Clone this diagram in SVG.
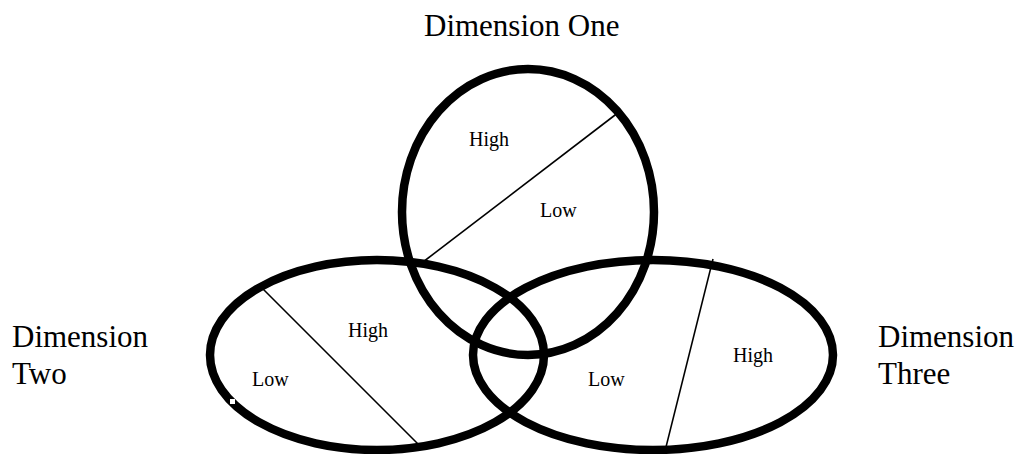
<svg xmlns="http://www.w3.org/2000/svg" width="1023" height="454" viewBox="0 0 1023 454">
<style>
.ring{fill:none;stroke:#000;stroke-width:8.5}
.div{stroke:#000;stroke-width:1.6;fill:none}
.big{font-family:"Liberation Serif","Times New Roman",serif;font-size:31px;fill:#000}
.sm{font-family:"Liberation Serif","Times New Roman",serif;font-size:20px;fill:#000}
</style>
<rect width="1023" height="454" fill="#fff"/>
<g id="dimension-one">
<ellipse class="ring" cx="528" cy="212" rx="126" ry="143"/>
<text class="big" x="424" y="36">Dimension One</text>
<text class="sm" x="469" y="146">High</text>
<text class="sm" x="540" y="217">Low</text>
</g>
<g id="dimension-two">
<ellipse class="ring" cx="377" cy="355" rx="167" ry="95"/>
<rect x="230" y="399" width="5" height="5" fill="#fff"/>
<text class="big" x="12" y="347">Dimension</text>
<text class="big" x="12" y="384">Two</text>
<text class="sm" x="348" y="337">High</text>
<text class="sm" x="252" y="386">Low</text>
</g>
<g id="dimension-three">
<ellipse class="ring" cx="653" cy="355" rx="180" ry="95"/>
<text class="big" x="878" y="347">Dimension</text>
<text class="big" x="878" y="384">Three</text>
<text class="sm" x="733" y="362">High</text>
<text class="sm" x="588" y="386">Low</text>
</g>
<g id="connectors">
<line class="div" x1="423" y1="262" x2="619" y2="112"/>
<line class="div" x1="263" y1="289" x2="418" y2="444"/>
<line class="div" x1="713" y1="259" x2="666" y2="447"/>
</g>
</svg>
